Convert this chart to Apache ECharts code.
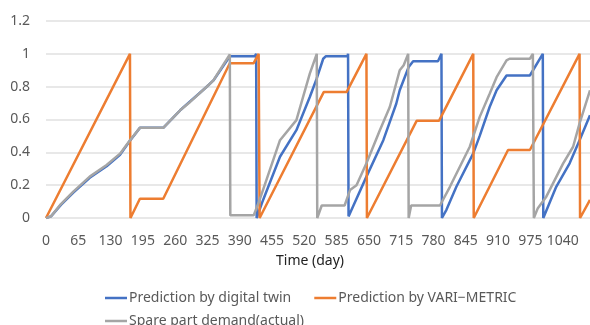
<!DOCTYPE html>
<html>
<head>
<meta charset="utf-8">
<script src="https://cdn.jsdelivr.net/npm/echarts@6/dist/echarts.min.js"></script>
<style>
html,body{margin:0;padding:0;background:#fff;}
#c{width:590px;height:325px;}
</style>
</head>
<body>
<div id="c"></div>
<script>
// Tick labels
const xTickInterval = 65;
const xMaxDay = 1095;
const yTicks = [0, 0.2, 0.4, 0.6, 0.8, 1, 1.2];

// Series names
const seriesNames = ['Prediction by digital twin', 'Prediction by VARI\u2212METRIC', 'Spare part demand(actual)'];

// Prediction by digital twin (day, value)
const twinDays   = [0, 10, 30, 55, 88, 122, 149, 169, 189, 236, 270, 290, 323, 337, 370, 420, 423, 424, 437, 471, 504, 531, 545, 558, 563, 607, 608, 609, 618, 645, 679, 705, 712, 730, 739, 789, 796, 797, 806, 826, 860, 873, 893, 907, 927, 974, 1000, 1001, 1027, 1054, 1074, 1095];
const twinValues = [0, 0.01, 0.08, 0.155, 0.245, 0.315, 0.385, 0.47, 0.549, 0.549, 0.656, 0.71, 0.798, 0.838, 0.985, 0.985, 1.0, 0, 0.11, 0.373, 0.535, 0.737, 0.85, 0.97, 0.985, 0.985, 1.0, 0.01, 0.07, 0.252, 0.474, 0.696, 0.778, 0.92, 0.955, 0.955, 1.0, 0, 0.05, 0.19, 0.394, 0.5, 0.676, 0.778, 0.868, 0.868, 1.0, 0, 0.19, 0.333, 0.474, 0.626];

// Prediction by VARI-METRIC (day, value)
const variDays   = [0, 169, 170, 189, 236, 370, 418, 428, 430, 559, 605, 645, 646, 746, 791, 860, 861, 930, 974, 1074, 1075, 1095];
const variValues = [0, 1.0, 0, 0.117, 0.117, 0.943, 0.943, 1.0, 0, 0.767, 0.767, 1.0, 0, 0.592, 0.592, 1.0, 0, 0.414, 0.414, 1.0, 0, 0.11];

// Spare part demand (actual) (day, value)
const actualDays   = [0, 10, 30, 55, 88, 122, 149, 169, 189, 236, 270, 290, 323, 337, 370, 371, 418, 430, 471, 504, 531, 545, 546, 555, 601, 612, 625, 645, 672, 692, 712, 720, 729, 730, 735, 793, 813, 853, 873, 893, 907, 927, 933, 974, 980, 982, 990, 1007, 1041, 1061, 1074, 1095];
const actualValues = [0, 0.01, 0.085, 0.161, 0.252, 0.323, 0.392, 0.474, 0.549, 0.549, 0.656, 0.707, 0.798, 0.838, 0.996, 0.016, 0.016, 0.11, 0.474, 0.596, 0.879, 1.0, 0, 0.076, 0.076, 0.17, 0.2, 0.333, 0.535, 0.676, 0.9, 0.93, 1.0, 0, 0.076, 0.076, 0.19, 0.434, 0.616, 0.757, 0.858, 0.96, 0.97, 0.97, 1.0, 0, 0.06, 0.13, 0.333, 0.434, 0.576, 0.778];

function pairs(days, vals) { return days.map((d, i) => [d, vals[i]]); }

const FONT = 'Noto Sans';
const legendText = {color: '#595959', fontSize: 14, fontFamily: FONT, padding: [0, 0, 0, -3]};
const chart = echarts.init(document.getElementById('c'), null, {renderer: 'canvas'});
chart.setOption({
  animation: false,
  backgroundColor: '#ffffff',
  grid: {left: 46, right: 0, top: 21, bottom: 107, containLabel: false},
  xAxis: {
    type: 'value', min: 0, max: xMaxDay, interval: xTickInterval,
    name: 'Time (day)', nameLocation: 'middle', nameGap: 36,
    nameTextStyle: {color: '#222', fontSize: 14, fontFamily: FONT, padding: [0, 16, 0, 0]},
    axisLine: {show: false}, axisTick: {show: false}, splitLine: {show: false},
    axisLabel: {color: '#595959', fontSize: 14, fontFamily: FONT, margin: 16, showMaxLabel: false,
      formatter: v => String(v)}
  },
  yAxis: {
    type: 'value', min: yTicks[0], max: yTicks[yTicks.length - 1], interval: 0.2,
    axisLine: {show: false}, axisTick: {show: false},
    splitLine: {lineStyle: {color: '#e0e0e0', width: 1.5}},
    axisLabel: {color: '#595959', fontSize: 14, fontFamily: FONT, margin: 16,
      formatter: v => String(Math.round(v * 10) / 10)}
  },
  legend: [
    {data: [seriesNames[0], seriesNames[1]], left: 100, top: 286, icon: 'rect', itemWidth: 22, itemHeight: 2.5, itemGap: 23,
     textStyle: legendText},
    {data: [seriesNames[2]], left: 100, top: 309, icon: 'rect', itemWidth: 22, itemHeight: 2.5,
     textStyle: legendText}
  ],
  series: [
    {name: seriesNames[0], type: 'line', data: pairs(twinDays, twinValues), symbol: 'none',
     lineStyle: {color: '#4472C4', width: 2.5}, itemStyle: {color: '#4472C4'}},
    {name: seriesNames[1], type: 'line', data: pairs(variDays, variValues), symbol: 'none',
     lineStyle: {color: '#ED7D31', width: 2.5}, itemStyle: {color: '#ED7D31'}},
    {name: seriesNames[2], type: 'line', data: pairs(actualDays, actualValues), symbol: 'none',
     lineStyle: {color: '#A5A5A5', width: 2.5}, itemStyle: {color: '#A5A5A5'}}
  ]
});
</script>
</body>
</html>
